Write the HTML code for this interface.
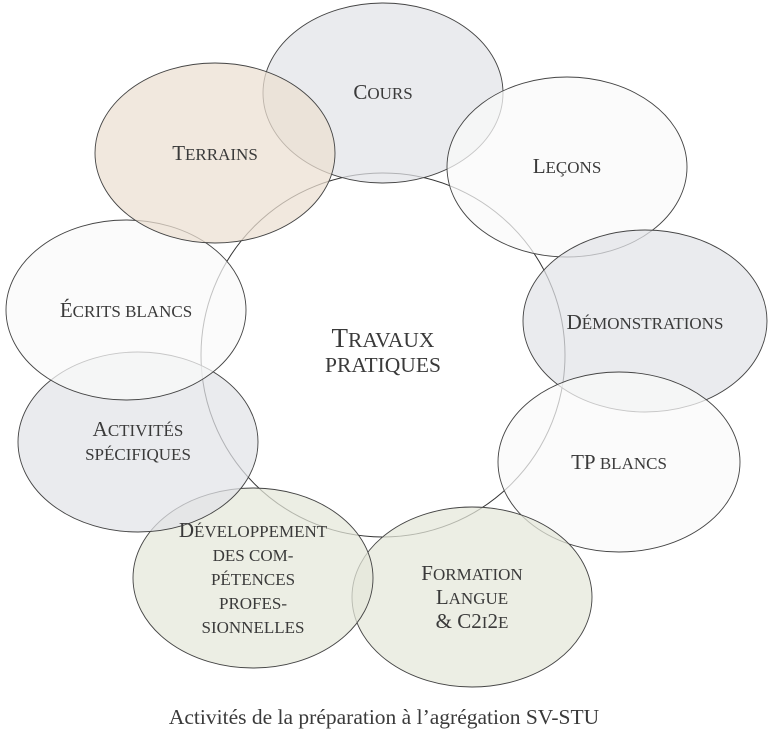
<!DOCTYPE html>
<html><head><meta charset="utf-8"><style>
html,body{margin:0;padding:0;background:#fff;}
svg text{font-family:"Liberation Serif",serif;fill:#3a3a3a;}
.c{font-size:21px;}
.C{font-size:27px;}
</style></head><body>
<svg width="768" height="733" viewBox="0 0 768 733" xmlns="http://www.w3.org/2000/svg">
<circle cx="383" cy="355" r="182" fill="#fff" stroke="#333" stroke-width="1"/>
<g stroke="#444" stroke-width="0.9" fill-opacity="0.72">
<ellipse cx="383" cy="93" rx="120" ry="90" fill="#e2e3e7"/>
<ellipse cx="567" cy="167" rx="120" ry="90" fill="#fafafa"/>
<ellipse cx="645" cy="321" rx="122" ry="91" fill="#e2e3e7"/>
<ellipse cx="619" cy="462" rx="121" ry="90" fill="#fafafa"/>
<ellipse cx="472" cy="597" rx="120" ry="90" fill="#e5e8d9"/>
<ellipse cx="253" cy="578" rx="120" ry="90" fill="#e5e8d9"/>
<ellipse cx="138" cy="442" rx="120" ry="90" fill="#e2e3e7"/>
<ellipse cx="126" cy="310" rx="120" ry="90" fill="#fafafa"/>
<ellipse cx="215" cy="153" rx="120" ry="90" fill="#ebdfd1"/>
</g>
<g text-anchor="middle" font-size="17">
<text x="383" y="99"><tspan class="c">C</tspan>OURS</text>
<text x="567" y="173"><tspan class="c">L</tspan>EÇONS</text>
<text x="645" y="329"><tspan class="c">D</tspan>ÉMONSTRATIONS</text>
<text x="619" y="469"><tspan class="c">TP</tspan> BLANCS</text>
<text x="472" y="580"><tspan class="c">F</tspan>ORMATION</text>
<text x="472" y="604"><tspan class="c">L</tspan>ANGUE</text>
<text x="472" y="628"><tspan class="c">&amp; C2</tspan>I<tspan class="c">2</tspan>E</text>
<text x="253" y="537"><tspan class="c">D</tspan>ÉVELOPPEMENT</text>
<text x="253" y="561">DES COM-</text>
<text x="253" y="585">PÉTENCES</text>
<text x="253" y="609">PROFES-</text>
<text x="253" y="633">SIONNELLES</text>
<text x="138" y="436"><tspan class="c">A</tspan>CTIVITÉS</text>
<text x="138" y="460">SPÉCIFIQUES</text>
<text x="126" y="317"><tspan class="c">É</tspan>CRITS BLANCS</text>
<text x="215" y="160"><tspan class="c">T</tspan>ERRAINS</text>
<text x="383" y="347" font-size="21.5" fill="#111"><tspan class="C">T</tspan>RAVAUX</text>
<text x="383" y="372" font-size="21.5" fill="#111">PRATIQUES</text>
</g>
<text x="384" y="724" font-size="21.5" text-anchor="middle" fill="#111">Activités de la préparation à l’agrégation SV-STU</text>
</svg>
</body></html>
